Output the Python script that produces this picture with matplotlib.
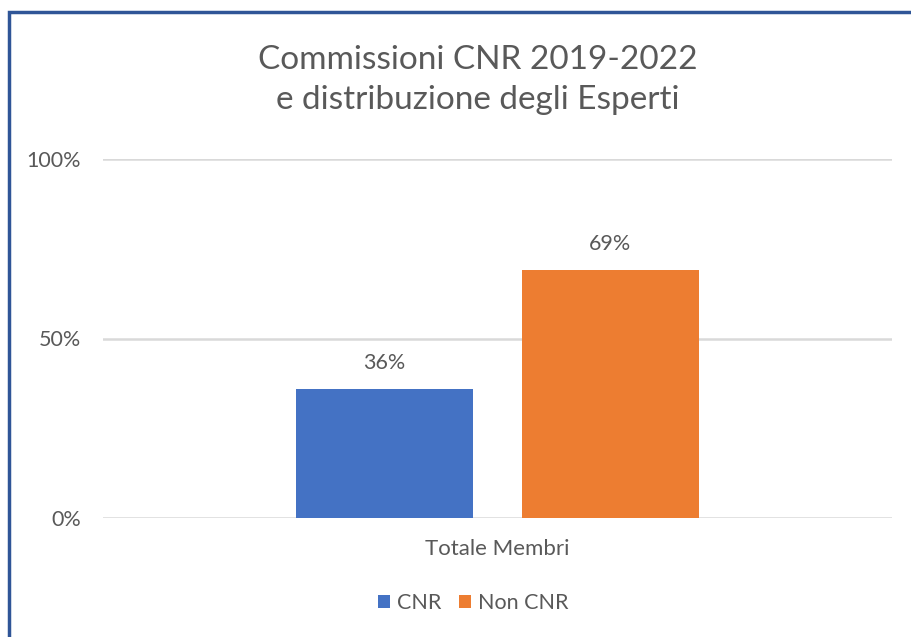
import matplotlib.pyplot as plt
from matplotlib.patches import Rectangle

# Data
category = ['Totale Membri']
series = ['CNR', 'Non CNR']
values = [0.36, 0.69]
colors = ['#4472C4', '#ED7D31']
yticks = [0, 0.5, 1.0]
ytick_labels = ['0%', '50%', '100%']

plt.rcParams['font.family'] = ['Lato', 'DejaVu Sans']
text_col = '#595959'

fig = plt.figure(figsize=(9.12, 6.37), dpi=100)
ax = fig.add_axes([103/912, 1 - 518/637, 789/912, 359/637])

width = 0.224
offsets = [-0.143, 0.143]
for name, val, col, off in zip(series, values, colors, offsets):
    ax.bar(0 + off, val, width=width, color=col, label=name, zorder=3)
    ax.text(0 + off, val + 0.045, f'{val:.0%}', ha='center', va='bottom',
            fontsize=15.5, color=text_col)

ax.set_xlim(-0.5, 0.5)
ax.set_ylim(0, 1)
ax.set_yticks(yticks)
ax.set_yticklabels(ytick_labels, fontsize=15.5, color=text_col)
ax.set_xticks([0])
ax.set_xticklabels(category, fontsize=16, color=text_col)
ax.tick_params(length=0)
ax.tick_params(axis='y', pad=16)
ax.tick_params(axis='x', pad=15)
ax.grid(axis='y', color='#D9D9D9', linewidth=1.8, zorder=0)
for s in ax.spines.values():
    s.set_visible(False)

fig.text(478/912, 1 - 80/637, 'Commissioni CNR 2019-2022\ne distribuzione degli Esperti',
         ha='center', va='center', fontsize=24, color=text_col, linespacing=1.45)

leg = fig.legend(loc='center', bbox_to_anchor=(473/912, 1 - 603/637), ncol=2,
                 frameon=False, fontsize=15.5, handlelength=0.6, handleheight=0.6,
                 handletextpad=0.3, columnspacing=0.8)
for t in leg.get_texts():
    t.set_color(text_col)

# chart frame
fig.patches.append(Rectangle((9/912, -0.1), 1.1, 1 - 12/637 + 0.1,
                             transform=fig.transFigure, fill=False,
                             edgecolor='#2F5597', linewidth=2.5))

fig.savefig('out.png', dpi=100)
